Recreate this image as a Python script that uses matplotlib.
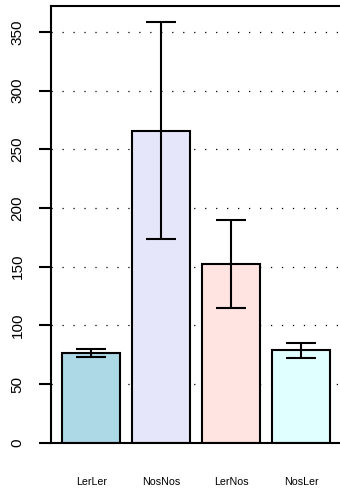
import numpy as np
import matplotlib
matplotlib.use("Agg")
import matplotlib.pyplot as plt

plt.rcParams['font.family'] = ['Liberation Sans', 'DejaVu Sans']
plt.rcParams['lines.scale_dashes'] = False

# Datos
grupos = ['LerLer', 'NosNos', 'LerNos', 'NosLer']
medias = [76.5, 265.7, 152.5, 78.6]
error_sup = [79.6, 358.0, 189.9, 85.0]
error_inf = [73.3, 173.4, 115.1, 72.2]
colores = ['#ADD8E6', '#E6E6FA', '#FFE4E1', '#E0FFFF']
marcas_y = [0, 50, 100, 150, 200, 250, 300, 350]

medias = np.array(medias)
err = [medias - np.array(error_inf), np.array(error_sup) - medias]

# posiciones estilo barplot de R (ancho 1, espacio 0.2)
x = 0.2 + np.arange(len(grupos)) * 1.2 + 0.5

fig = plt.figure(figsize=(3.4, 4.91), dpi=100)
ax = fig.add_axes([50.5 / 340, 48.3 / 491, (342 - 50.5) / 340, (442.7 - 6) / 491])

# líneas punteadas de referencia
for v in marcas_y[1:]:
    ax.axhline(v, color='black', linestyle=(0, (0.9, 7.0)), lw=0.9, zorder=1)

ax.bar(x, medias, width=1.0, color=colores, edgecolor='black', linewidth=1.5, zorder=2)
ax.errorbar(x, medias, yerr=err, fmt='none', ecolor='black', elinewidth=1.5,
            capsize=11, capthick=1.5, zorder=3)

ax.set_xlim(0, 5)
ax.set_ylim(0, 372)
ax.set_yticks(marcas_y)
ax.set_yticklabels([str(v) for v in marcas_y], rotation=90, va='center', fontsize=11)
ax.tick_params(axis='y', length=8.6, width=1.5, pad=10)
ax.set_xticks(x)
ax.set_xticklabels(grupos, fontsize=7.7)
ax.tick_params(axis='x', length=0, pad=25)
for s in ax.spines.values():
    s.set_linewidth(1.5)

fig.savefig('out.png', dpi=100)
